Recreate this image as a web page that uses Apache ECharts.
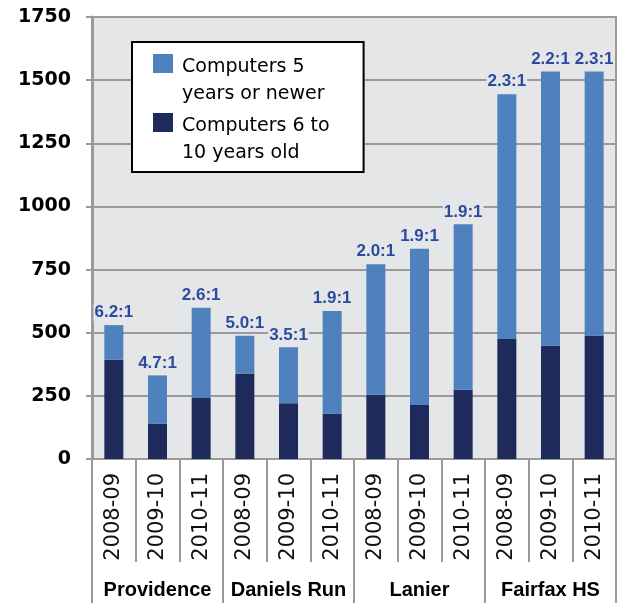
<!DOCTYPE html>
<html>
<head>
<meta charset="utf-8">
<script src="https://cdn.jsdelivr.net/npm/echarts@6/dist/echarts.min.js"></script>
<style>
  html, body { margin: 0; padding: 0; background: #fff; }
  #chart { width: 620px; height: 603px; }
</style>
</head>
<body>
<div id="chart"></div>
<script>
// School years shown for each school
const years = ['2008-09', '2009-10', '2010-11',
               '2008-09', '2009-10', '2010-11',
               '2008-09', '2009-10', '2010-11',
               '2008-09', '2009-10', '2010-11'];
const schools = ['Providence', 'Daniels Run', 'Lanier', 'Fairfax HS'];

// Computers 6 to 10 years old (bottom of each stack)
const olderComputers = [393, 139, 242, 339, 221, 180, 254, 214, 274, 475, 448, 489];
// Computers 5 years or newer (stacked on top)
const newerComputers = [137, 192, 357, 149, 221, 406, 517, 618, 655, 969, 1086, 1045];
// Student-to-computer ratio printed above each stack
const ratios = ['6.2:1', '4.7:1', '2.6:1', '5.0:1', '3.5:1', '1.9:1',
                '2.0:1', '1.9:1', '1.9:1', '2.3:1', '2.2:1', '2.3:1'];

const yTicks = { min: 0, max: 1750, interval: 250 };

const NEWER_NAME = 'Computers 5 years or newer';
const OLDER_NAME = 'Computers 6 to 10 years old';
const legendText = {};
legendText[NEWER_NAME] = 'Computers 5\nyears or newer';
legendText[OLDER_NAME] = 'Computers 6 to\n10 years old';

const plotBg = '#e5e6e8';
const lineGray = '#9a9a9a';

const chart = echarts.init(document.getElementById('chart'), null, { renderer: 'canvas' });

chart.setOption({
  backgroundColor: '#ffffff',
  animation: false,
  grid: {
    left: 92, right: 4, top: 17, bottom: 144,
    show: true,
    backgroundColor: plotBg,
    borderColor: lineGray,
    borderWidth: 2
  },
  legend: {
    orient: 'vertical',
    left: 132, top: 42,
    padding: [12, 34, 6, 21],
    itemGap: 6,
    itemWidth: 20,
    itemHeight: 53,
    // square swatch sitting at the top of a two-line label
    icon: 'path://M0,0H20V19H0Z M0,53',
    backgroundColor: '#ffffff',
    borderColor: '#000000',
    borderWidth: 2,
    borderRadius: 0,
    data: [NEWER_NAME, OLDER_NAME],
    formatter: function (name) { return legendText[name]; },
    textStyle: {
      fontFamily: 'DejaVu Sans',
      fontSize: 19,
      lineHeight: 26.5,
      color: '#000',
      padding: [0, 0, 0, 4]
    }
  },
  xAxis: [
    {
      type: 'category',
      data: years,
      position: 'bottom',
      axisLine: { show: true, lineStyle: { color: lineGray, width: 2 } },
      axisTick: { show: true, interval: 0, length: 103, lineStyle: { color: lineGray, width: 2 } },
      axisLabel: {
        interval: 0,
        rotate: 90,
        margin: 14,
        fontFamily: 'DejaVu Sans',
        fontSize: 21,
        color: '#111'
      }
    },
    {
      type: 'category',
      data: schools,
      position: 'bottom',
      axisLine: { show: false },
      axisTick: { show: true, interval: 0, length: 144, lineStyle: { color: lineGray, width: 2 } },
      axisLabel: {
        interval: 0,
        margin: 121,
        fontFamily: 'Liberation Sans',
        fontWeight: 'bold',
        fontSize: 20,
        color: '#000'
      }
    }
  ],
  yAxis: {
    type: 'value',
    min: yTicks.min, max: yTicks.max, interval: yTicks.interval,
    axisLine: { show: true, lineStyle: { color: lineGray, width: 3 } },
    axisTick: { show: true, length: 6, lineStyle: { color: lineGray, width: 2 } },
    splitLine: { show: true, lineStyle: { color: lineGray, width: 2 } },
    axisLabel: {
      margin: 21,
      formatter: function (v) { return String(v); },
      fontFamily: 'DejaVu Sans',
      fontWeight: 'bold',
      fontSize: 19,
      color: '#000'
    }
  },
  series: [
    {
      name: OLDER_NAME,
      type: 'bar',
      stack: 'computers',
      xAxisIndex: 0,
      barWidth: 19,
      itemStyle: { color: '#1f2a5c' },
      data: olderComputers
    },
    {
      name: NEWER_NAME,
      type: 'bar',
      stack: 'computers',
      xAxisIndex: 0,
      barWidth: 19,
      itemStyle: { color: '#4f81bf' },
      label: {
        show: true,
        position: 'top',
        distance: 4,
        formatter: function (p) { return ratios[p.dataIndex]; },
        fontFamily: 'Liberation Sans',
        fontWeight: 'bold',
        fontSize: 17,
        color: '#2b4aa0',
        backgroundColor: plotBg,
        padding: [1, 1, 0, 1]
      },
      data: newerComputers
    }
  ]
});
</script>
</body>
</html>
